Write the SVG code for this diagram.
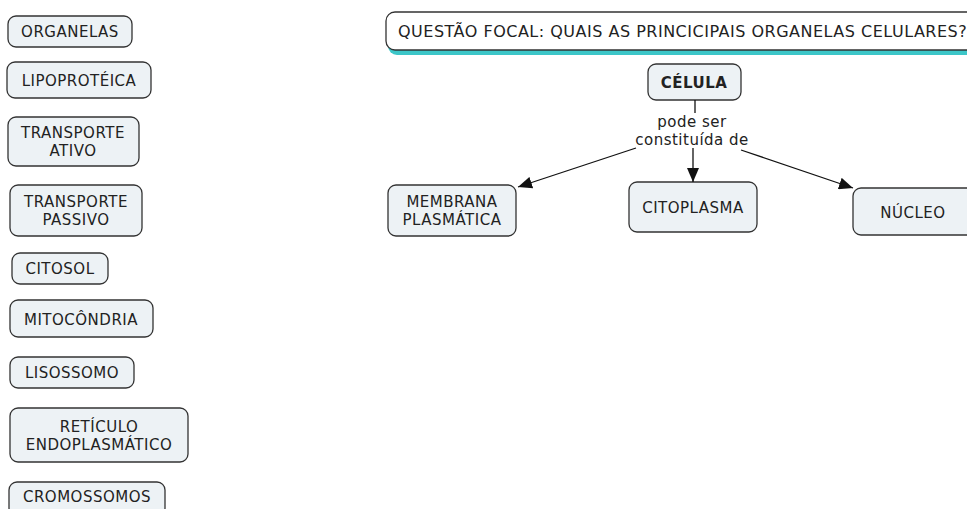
<svg xmlns="http://www.w3.org/2000/svg" width="967" height="509" viewBox="0 0 967 509">
<defs>
<style>
.n{fill:#edf2f5;stroke:#333;stroke-width:1.3}
.t{font-family:"DejaVu Sans",Verdana,sans-serif;font-size:15px;letter-spacing:0.5px;fill:#222;text-anchor:middle}
.b{font-weight:bold}
.c{stroke:#111;stroke-width:1.3;fill:none}
</style>
<marker id="ah" markerWidth="14" markerHeight="12" refX="14" refY="6" orient="auto" markerUnits="userSpaceOnUse" viewBox="0 0 14 12">
<path d="M0,0 L14,6 L0,12 z" fill="#111"/>
</marker>
</defs>
<rect width="967" height="509" fill="#fff"/>
<g id="focal">
<rect x="388" y="16" width="600" height="39" rx="9" fill="#3cc6c8"/>
<rect x="386" y="12" width="600" height="38" rx="9" fill="#fff" stroke="#333" stroke-width="1.3"/>
<text class="t" x="398" y="37" style="text-anchor:start;font-size:16px">QUESTÃO FOCAL: QUAIS AS PRINCICIPAIS ORGANELAS CELULARES?</text>
</g>
<g id="organelas"><rect class="n" x="8" y="16" width="124" height="31" rx="8"/><text class="t" x="70" y="37">ORGANELAS</text></g>
<g id="lipoproteica"><rect class="n" x="7" y="62" width="144" height="36" rx="8"/><text class="t" x="79" y="86">LIPOPROTÉICA</text></g>
<g id="transporte-ativo"><rect class="n" x="8" y="117" width="131" height="49" rx="8"/><text class="t" x="73" y="138">TRANSPORTE</text><text class="t" x="73" y="156">ATIVO</text></g>
<g id="transporte-passivo"><rect class="n" x="10" y="185" width="132" height="51" rx="8"/><text class="t" x="76" y="207">TRANSPORTE</text><text class="t" x="76" y="225">PASSIVO</text></g>
<g id="citosol"><rect class="n" x="12" y="253" width="96" height="31" rx="8"/><text class="t" x="60" y="274">CITOSOL</text></g>
<g id="mitocondria"><rect class="n" x="10" y="300" width="143" height="37" rx="8"/><text class="t" x="81" y="325">MITOCÔNDRIA</text></g>
<g id="lisossomo"><rect class="n" x="10" y="357" width="124" height="31" rx="8"/><text class="t" x="72" y="378">LISOSSOMO</text></g>
<g id="reticulo"><rect class="n" x="10" y="408" width="178" height="54" rx="8"/><text class="t" x="99" y="432">RETÍCULO</text><text class="t" x="99" y="450">ENDOPLASMÁTICO</text></g>
<g id="cromossomos"><rect class="n" x="9" y="482" width="156" height="34" rx="8"/><text class="t" x="87" y="502">CROMOSSOMOS</text></g>
<g id="celula"><rect class="n" x="648" y="64" width="93" height="36" rx="8"/><text class="t b" x="694" y="88">CÉLULA</text></g>
<g id="membrana"><rect class="n" x="388" y="185" width="128" height="51" rx="8"/><text class="t" x="452" y="207">MEMBRANA</text><text class="t" x="452" y="225">PLASMÁTICA</text></g>
<g id="citoplasma"><rect class="n" x="629" y="182" width="128" height="50" rx="8"/><text class="t" x="693" y="213">CITOPLASMA</text></g>
<g id="nucleo"><rect class="n" x="853" y="188" width="130" height="47" rx="8"/><text class="t" x="913" y="218">NÚCLEO</text></g>
<g id="connectors">
<line class="c" x1="695" y1="100" x2="695" y2="113"/>
<text class="t" x="692" y="127">pode ser</text>
<text class="t" x="692" y="145">constituída de</text>
<line class="c" x1="636" y1="148" x2="518" y2="187" marker-end="url(#ah)"/>
<line class="c" x1="693" y1="148" x2="693" y2="182" marker-end="url(#ah)"/>
<line class="c" x1="741" y1="150" x2="853" y2="188" marker-end="url(#ah)"/>
</g>
</svg>
